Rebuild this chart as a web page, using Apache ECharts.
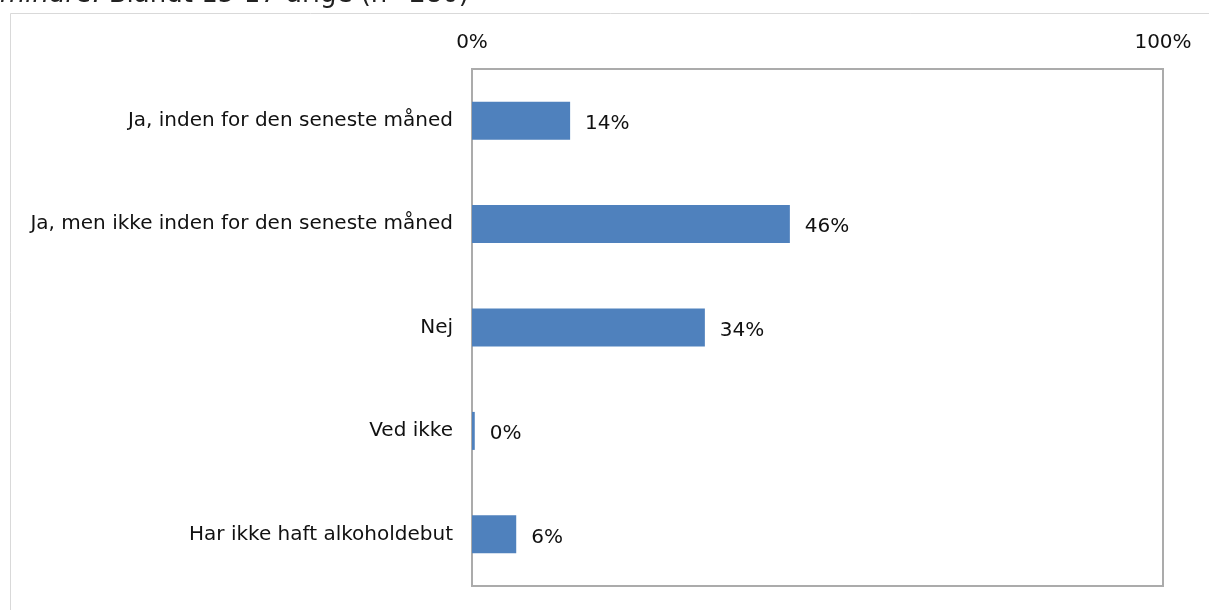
<!DOCTYPE html>
<html>
<head>
<meta charset="utf-8">
<script src="https://cdn.jsdelivr.net/npm/echarts@6/dist/echarts.min.js"></script>
<style>
html,body{margin:0;padding:0;background:#fff;}
#chart{width:1209px;height:610px;}
</style>
</head>
<body>
<div id="chart"></div>
<script>
const categories = [
  "Ja, inden for den seneste måned",
  "Ja, men ikke inden for den seneste måned",
  "Nej",
  "Ved ikke",
  "Har ikke haft alkoholdebut"
];
const values = [14.2, 46, 33.7, 0.4, 6.4];
const tickLabels = ["0%", "100%"];
const titleItalic = "mindre.";
const titleRest = " Blandt 15-17-årige (n=280)";

const FONT = "DejaVu Sans";
const chart = echarts.init(document.getElementById('chart'));
chart.setOption({
  animation: false,
  backgroundColor: '#fff',
  graphic: [
    {type: 'rect', shape: {x: 10.5, y: 13.5, width: 1220, height: 620},
     style: {fill: 'none', stroke: '#d9d9d9', lineWidth: 1}, z: 0},
    {type: 'text', left: 0, top: -18,
     style: {rich: {i: {fontStyle: 'italic', fontSize: 26, fontFamily: FONT, fill: '#222'},
                    n: {fontSize: 26, fontFamily: FONT, fill: '#222'}},
             text: '{i|' + titleItalic + '}{n|' + titleRest + '}'}}
  ],
  grid: {left: 472, right: 46, top: 69, bottom: 24, show: true,
         borderColor: '#ababab', borderWidth: 2, backgroundColor: 'transparent'},
  xAxis: {
    type: 'value', position: 'top', min: 0, max: 100, interval: 100,
    axisLine: {show: false}, axisTick: {show: false}, splitLine: {show: false},
    axisLabel: {margin: 16, fontSize: 20, fontFamily: FONT, color: '#111',
      formatter: v => v === 0 ? tickLabels[0] : (v === 100 ? tickLabels[1] : '')}
  },
  yAxis: {
    type: 'category', data: categories, inverse: true,
    axisLine: {show: false}, axisTick: {show: false},
    axisLabel: {margin: 19, fontSize: 20, fontFamily: FONT, color: '#111'}
  },
  series: [{
    type: 'bar', data: values, barWidth: 38,
    itemStyle: {color: '#4f81bd'},
    label: {show: true, position: 'right', distance: 15, fontSize: 20, fontFamily: FONT,
            color: '#111', offset: [0, 3], formatter: p => Math.round(p.value) + '%'}
  }]
});
</script>
</body>
</html>
